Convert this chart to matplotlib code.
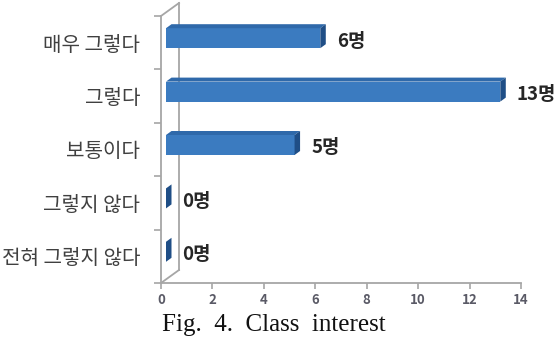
import matplotlib
matplotlib.use("Agg")
import matplotlib.pyplot as plt
from matplotlib.patches import Polygon

plt.rcParams["font.family"] = ["Noto Sans CJK KR", "DejaVu Sans"]

categories = ["전혀 그렇지 않다", "그렇지 않다", "보통이다", "그렇다", "매우 그렇다"]
values = [0, 0, 5, 13, 6]
value_labels = ["0명", "0명", "5명", "13명", "6명"]
xticks = [0, 2, 4, 6, 8, 10, 12, 14]
caption = "Fig.  4.  Class  interest"

W, H, DPI = 559, 342, 100
fig = plt.figure(figsize=(W / DPI, H / DPI), dpi=DPI)
fig.patch.set_facecolor("white")

# front plane of the 3d box in pixels
left_px, right_px, top_px, bottom_px = 161, 521, 16, 283
ax = fig.add_axes([left_px / W, 1 - bottom_px / H,
                   (right_px - left_px) / W, (bottom_px - top_px) / H])
ax.set_xlim(0, 14)
ax.set_ylim(-0.5, len(categories) - 0.5)

sx = (right_px - left_px) / 14.0           # px per x unit
sy = (bottom_px - top_px) / len(categories)  # px per category

def px(dx, dy):
    return dx / sx, dy / sy

wall_dx, wall_dy = px(18, 13)
off_dx, off_dy = px(5, 4.5)
dep_dx, dep_dy = px(5.5, 4)
bar_h = 20 / sy

front_col = "#3B7BC0"
top_col = "#2F69AA"
side_col = "#1F4E86"
wall_col = "#A6A6A6"

# back wall + diagonals
y0, y1 = -0.5, len(categories) - 0.5
ax.plot([wall_dx, wall_dx], [y0 + wall_dy, y1 + wall_dy], color=wall_col, lw=1.3, clip_on=False)
ax.plot([0, wall_dx], [y1, y1 + wall_dy], color=wall_col, lw=1.3, clip_on=False)
ax.plot([0, wall_dx], [y0, y0 + wall_dy], color=wall_col, lw=1.3, clip_on=False)

# bars
pos = list(range(len(categories)))
yc = [p + off_dy for p in pos]
ax.barh(yc, values, height=bar_h, left=off_dx, color=front_col, edgecolor="none", zorder=3)
for p, v, lab in zip(pos, values, value_labels):
    yb = p + off_dy - bar_h / 2
    yt = p + off_dy + bar_h / 2
    x1 = off_dx + v
    if v > 0:
        ax.add_patch(Polygon([(off_dx, yt), (x1, yt), (x1 + dep_dx, yt + dep_dy),
                              (off_dx + dep_dx, yt + dep_dy)],
                             closed=True, fc=top_col, ec="none", zorder=3, clip_on=False))
    ax.add_patch(Polygon([(x1, yb), (x1, yt), (x1 + dep_dx, yt + dep_dy), (x1 + dep_dx, yb + dep_dy)],
                         closed=True, fc=side_col, ec="none", zorder=4, clip_on=False))
    ax.text(x1 + dep_dx + 11 / sx, p + 1.5 / sy, lab, ha="left", va="center",
            fontsize=13.5, fontweight="bold", color="#262626", clip_on=False)

# axes styling
for s in ["top", "right"]:
    ax.spines[s].set_visible(False)
ax.spines["left"].set_color(wall_col)
ax.spines["bottom"].set_color(wall_col)
ax.spines["left"].set_linewidth(1.3)
ax.spines["bottom"].set_linewidth(1.3)

ax.set_yticks(pos)
ax.set_yticklabels(categories, fontsize=14.5, color="#404040")
ax.tick_params(axis="y", which="major", length=0, pad=15)
ax.set_yticks([p - 0.5 for p in pos] + [y1], minor=True)
ax.tick_params(axis="y", which="minor", length=5, color=wall_col, width=1.2)

ax.set_xticks(xticks)
ax.set_xticklabels([str(t) for t in xticks], fontsize=9.5, fontweight="bold", color="#5A5A66")
ax.tick_params(axis="x", length=4, color=wall_col, width=1.2, pad=3)
ax.set_facecolor("none")

fig.text(274 / W, 1 - 325 / H, caption, ha="center", va="center",
         fontsize=18, family="Liberation Serif", color="#111111")

fig.savefig("out.png", dpi=DPI)
